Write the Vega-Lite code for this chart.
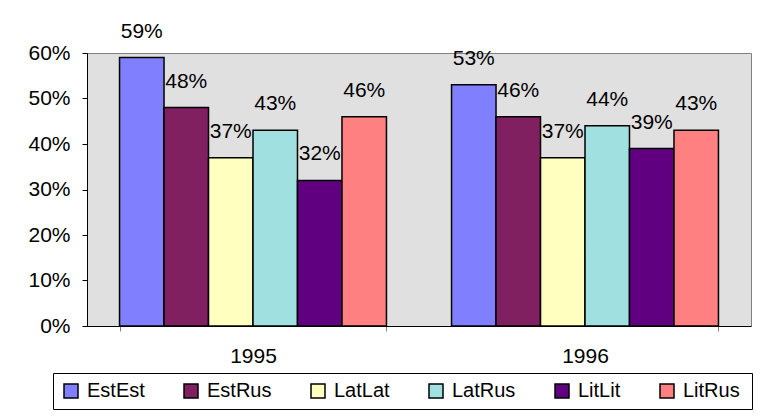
{
  "$schema": "https://vega.github.io/schema/vega-lite/v6.json",
  "width": 664,
  "height": 273,
  "autosize": {"type": "none"},
  "padding": {"left": 87, "top": 53, "right": 12, "bottom": 90},
  "background": "white",
  "config": {
    "view": {"fill": "#E0E0E0", "stroke": "#808080", "strokeWidth": 1},
    "font": "Liberation Sans"
  },
  "data": {
    "values": [
      {"year": "1995", "series": "EstEst", "value": 0.59},
      {"year": "1995", "series": "EstRus", "value": 0.48},
      {"year": "1995", "series": "LatLat", "value": 0.37},
      {"year": "1995", "series": "LatRus", "value": 0.43},
      {"year": "1995", "series": "LitLit", "value": 0.32},
      {"year": "1995", "series": "LitRus", "value": 0.46},
      {"year": "1996", "series": "EstEst", "value": 0.53},
      {"year": "1996", "series": "EstRus", "value": 0.46},
      {"year": "1996", "series": "LatLat", "value": 0.37},
      {"year": "1996", "series": "LatRus", "value": 0.44},
      {"year": "1996", "series": "LitLit", "value": 0.39},
      {"year": "1996", "series": "LitRus", "value": 0.43}
    ]
  },
  "encoding": {
    "x": {
      "field": "year", "type": "nominal",
      "scale": {"paddingInner": 0.196, "paddingOuter": 0.098},
      "axis": {
        "title": null, "labelAngle": 0, "tickBand": "extent", "tickSize": 5,
        "tickColor": "#808080", "domainColor": "black", "labelFontSize": 21,
        "labelColor": "black", "labelPadding": 14, "grid": false
      }
    },
    "xOffset": {
      "field": "series", "type": "nominal",
      "sort": ["EstEst", "EstRus", "LatLat", "LatRus", "LitLit", "LitRus"],
      "scale": {"paddingInner": 0, "paddingOuter": 0}
    },
    "y": {
      "field": "value", "type": "quantitative",
      "scale": {"domain": [0, 0.6], "nice": false},
      "axis": {
        "title": null, "grid": false, "values": [0, 0.1, 0.2, 0.3, 0.4, 0.5, 0.6],
        "format": ".0%", "tickSize": 5, "tickColor": "black", "domainColor": "black",
        "labelFontSize": 21, "labelColor": "black", "labelPadding": 12
      }
    }
  },
  "layer": [
    {
      "mark": {"type": "bar", "stroke": "black", "strokeWidth": 1.5},
      "encoding": {
        "color": {
          "field": "series", "type": "nominal",
          "sort": ["EstEst", "EstRus", "LatLat", "LatRus", "LitLit", "LitRus"],
          "scale": {
            "domain": ["EstEst", "EstRus", "LatLat", "LatRus", "LitLit", "LitRus"],
            "range": ["#8080FF", "#802060", "#FFFFC0", "#A0E0E0", "#600080", "#FF8080"]
          },
          "legend": {
            "orient": "none", "legendX": -34, "legendY": 320,
            "direction": "horizontal", "columns": 6, "title": " ",
            "titleOrient": "right", "titlePadding": 4, "titleFontSize": 20,
            "strokeColor": "black", "fillColor": "white", "padding": 8,
            "symbolType": "square", "symbolSize": 196, "symbolStrokeColor": "black",
            "symbolStrokeWidth": 1.5, "symbolOpacity": 1, "labelFontSize": 20, "labelOffset": 6,
            "columnPadding": 36, "symbolOffset": 0, "labelColor": "black"
          }
        }
      }
    },
    {
      "mark": {"type": "text", "dy": -20, "baseline": "alphabetic", "fontSize": 21, "color": "black"},
      "encoding": {
        "text": {"field": "value", "type": "quantitative", "format": ".0%"}
      }
    }
  ]
}
